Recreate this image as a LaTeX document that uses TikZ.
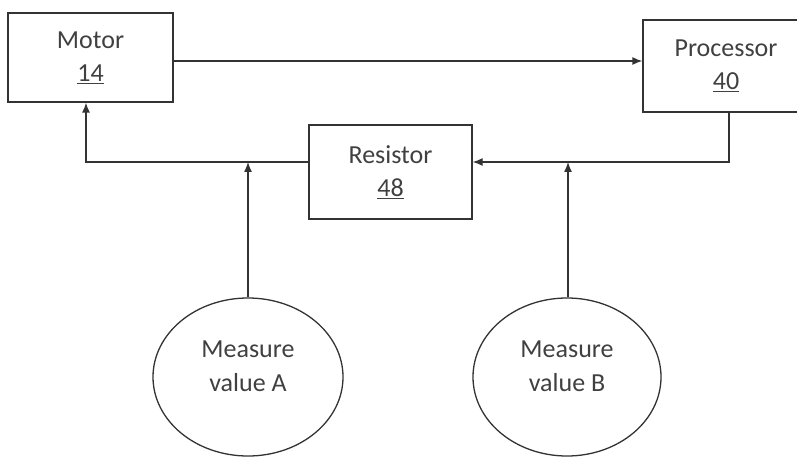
\documentclass[tikz,border=0pt]{standalone}
\usepackage{fontspec}
\setmainfont{Carlito}
\usetikzlibrary{shapes.geometric,arrows.meta}

\begin{document}
\begin{tikzpicture}[x=1pt,y=-1pt,
  box/.style={draw=black!80,line width=1.3pt,minimum width=165pt,minimum height=89pt,
    align=center,font=\fontsize{26}{33}\selectfont,text=black!75},
  meas/.style={draw=black!80,ellipse,line width=1.3pt,minimum width=190pt,minimum height=158pt,
    align=center,font=\fontsize{26}{34}\selectfont,text=black!75,text depth=22pt},
  arr/.style={draw=black!80,line width=1.3pt,-{Latex[length=10pt,width=8pt]}}]

\useasboundingbox (0,0) rectangle (797,462);
\clip (0,0) rectangle (797,462);

% top row: motor and processor
\node[box] (motor) at (90.5,57.5) {Motor\\\underline{14}};
\node[box,minimum width=166pt,minimum height=92pt] (proc) at (726,66) {Processor\\\underline{40}};

% resistor in the middle
\node[box,minimum width=163pt,minimum height=94pt] (res) at (390.5,172) {Resistor\\\underline{48}};

% the two measured values
\node[meas] (measA) at (248,377) {Measure\\value A};
\node[meas,minimum width=188pt] (measB) at (567,377) {Measure\\value B};

% where the measurements join the feedback line
\coordinate (ja) at (248,162);
\coordinate (jb) at (568,162);

\draw[arr] (motor.east |- 0,61) -- (proc.west |- 0,61);
\draw[arr] (proc.south -| 729,0) |- (res.east |- jb);
\draw[arr] (res.west |- ja) -| (motor.south -| 86,0);
\draw[arr] (measA.north) -- (ja);
\draw[arr] (measB.north -| jb) -- (jb);

\end{tikzpicture}
\end{document}
